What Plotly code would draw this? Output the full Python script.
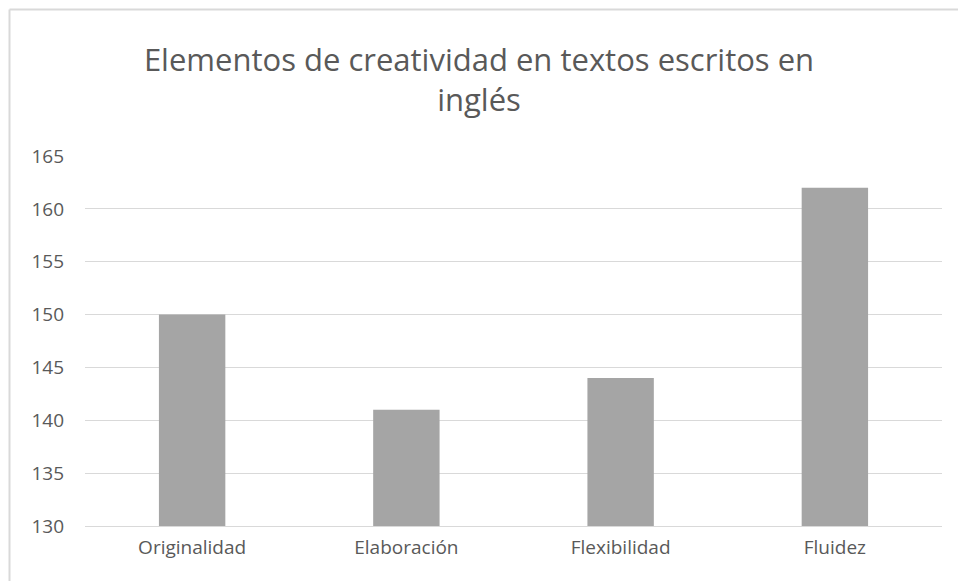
import plotly.graph_objects as go

categories = ["Originalidad", "Elaboración", "Flexibilidad", "Fluidez"]
values = [150, 141, 144, 162]
y_ticks = [130, 135, 140, 145, 150, 155, 160, 165]

TEXT_COLOR = "#595959"
GRID_COLOR = "#d9d9d9"
BAR_COLOR = "#a5a5a5"
FONT = "Open Sans, Noto Sans, sans-serif"

W, H = 958, 581
L, R, T, B = 85, 16, 156, 55
pw, ph = W - L - R, H - T - B

fig = go.Figure(
    go.Bar(
        x=categories,
        y=values,
        marker={"color": BAR_COLOR, "line": {"width": 0}},
        width=0.31,
    )
)

fig.update_yaxes(
    range=[130, 165],
    tickvals=y_ticks,
    showgrid=True,
    gridcolor=GRID_COLOR,
    gridwidth=1,
    zeroline=False,
    showline=False,
    ticks="",
    ticklabelstandoff=20,
    tickfont={"size": 19, "color": TEXT_COLOR, "family": FONT},
)
fig.update_xaxes(
    showline=True,
    linecolor=GRID_COLOR,
    linewidth=1,
    ticks="",
    ticklabelstandoff=4,
    tickfont={"size": 19, "color": TEXT_COLOR, "family": FONT},
)

# chart-area frame: only its top and left edges show in the reference
fx0 = (9.5 - L) / pw
fy1 = (H - 9.5 - B) / ph
frame = {"color": GRID_COLOR, "width": 2}
fig.add_shape(type="line", xref="paper", yref="paper",
              x0=fx0, x1=(W - L) / pw, y0=fy1, y1=fy1, line=frame)
fig.add_shape(type="line", xref="paper", yref="paper",
              x0=fx0, x1=fx0, y0=-B / ph, y1=fy1, line=frame)

fig.update_layout(
    width=W,
    height=H,
    margin={"l": L, "r": R, "t": T, "b": B},
    plot_bgcolor="white",
    paper_bgcolor="white",
    showlegend=False,
    bargap=0.69,
    title={
        "text": "Elementos de creatividad en textos escritos en<br>inglés",
        "x": 0.5,
        "xanchor": "center",
        "y": 1 - 71 / H,
        "yanchor": "top",
        "font": {"size": 31, "color": TEXT_COLOR, "family": FONT},
    },
)

fig.write_html(
    "out.html",
    config={"displayModeBar": False},
    post_script="document.body.style.margin='0';document.body.style.overflow='hidden';",
)
